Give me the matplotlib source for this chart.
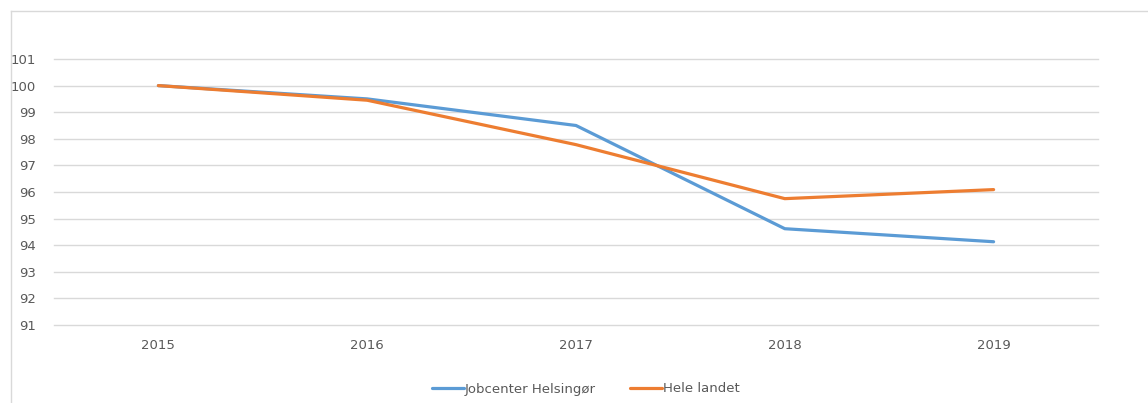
import numpy as np
import matplotlib.pyplot as plt
from matplotlib.lines import Line2D

years = ['2015', '2016', '2017', '2018', '2019']
helsingor = [100.0, 99.5, 98.5, 94.62, 94.13]
landet = [100.0, 99.45, 97.78, 95.75, 96.09]

W, H = 1148, 403
fig = plt.figure(figsize=(W/100, H/100), dpi=100)
ax = fig.add_axes([54/W, (H-325)/H, (1098-54)/W, (325-59)/H])

x = np.arange(len(years))
ax.plot(x, helsingor, color='#5B9BD5', lw=2.3, label='Jobcenter Helsingør', solid_capstyle='round')
ax.plot(x, landet, color='#ED7D31', lw=2.3, label='Hele landet', solid_capstyle='round')

ax.set_xlim(-0.5, 4.5)
ax.set_ylim(91, 101)
ax.set_yticks(range(91, 102))
ax.set_xticks(x)
ax.set_xticklabels(years)
for v in range(91, 102):
    ax.axhline(v, color='#D9D9D9', lw=1, zorder=0, clip_on=False)
for s in ax.spines.values():
    s.set_visible(False)
ax.tick_params(length=0, colors='#595959', labelsize=9.5)
ax.tick_params(axis='y', pad=13)
ax.tick_params(axis='x', pad=10)

leg = fig.legend(loc='center', bbox_to_anchor=(586/W, (H-389)/H), ncol=2, frameon=False,
                 fontsize=9.5, handlelength=2.4, handletextpad=0.1, columnspacing=2.6)
for t in leg.get_texts():
    t.set_color('#595959')

# outer chart border (left and top only visible)
bx, by = 10.5/W, (H-11)/H
fig.add_artist(Line2D([bx, bx], [0, by], transform=fig.transFigure, color='#D9D9D9', lw=1))
fig.add_artist(Line2D([bx, 1], [by, by], transform=fig.transFigure, color='#D9D9D9', lw=1))

fig.savefig('out.png', dpi=100)
